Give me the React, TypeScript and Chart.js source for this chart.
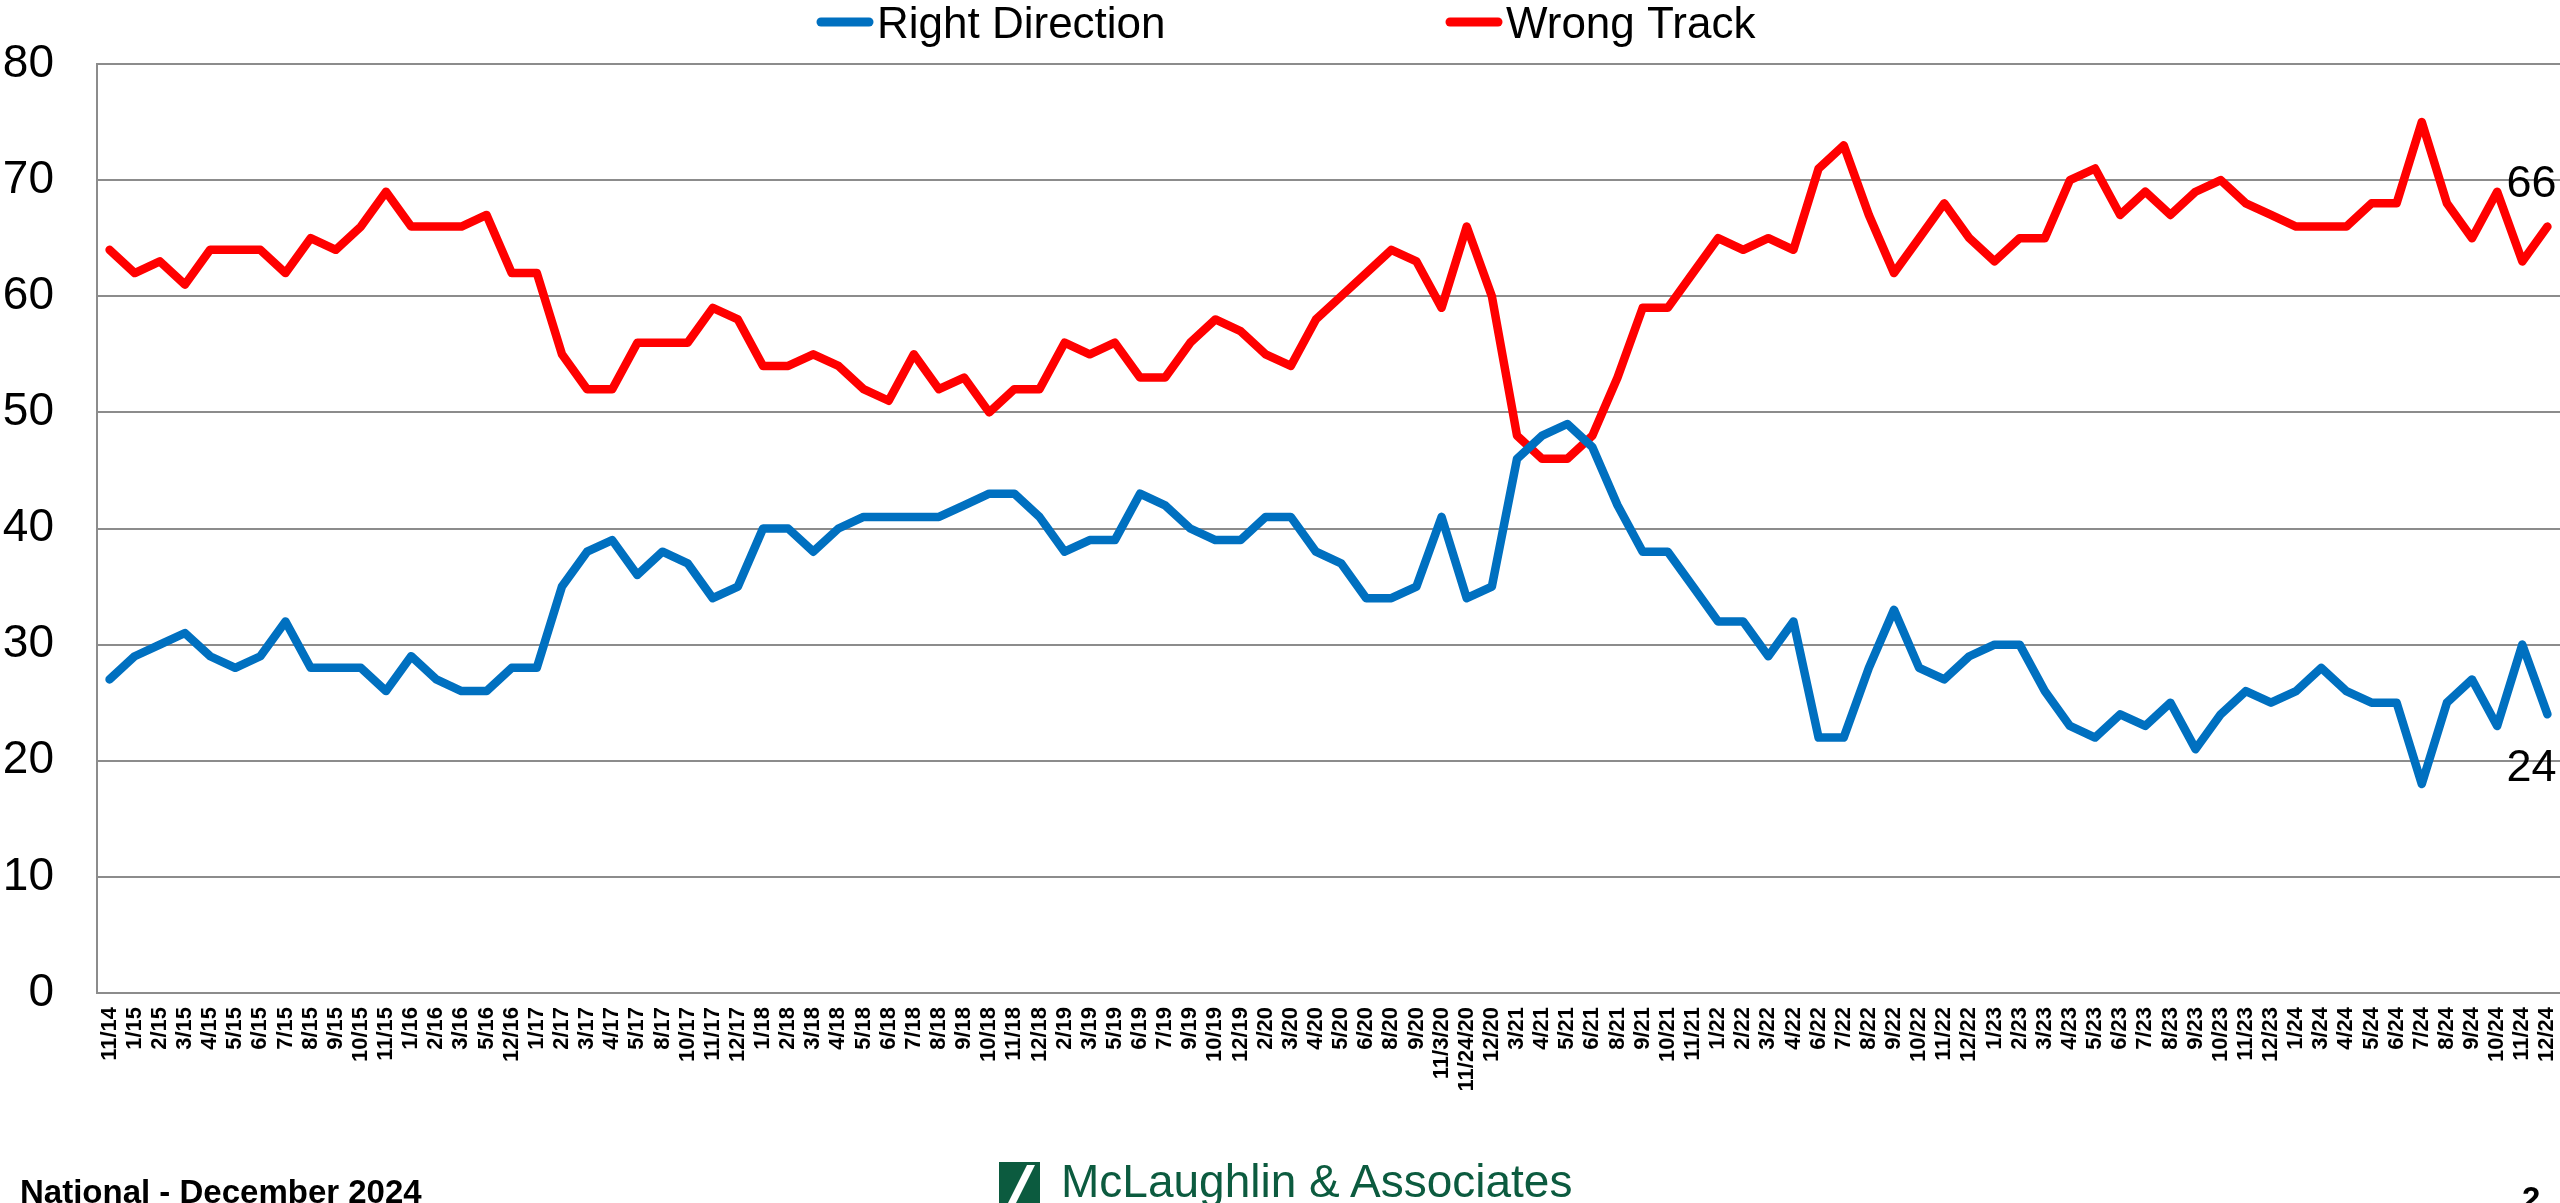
import React, { useEffect, useRef } from 'react';
import { Chart, registerables } from 'chart.js';

Chart.register(...registerables);

const categories = [
  '11/14', '1/15', '2/15', '3/15', '4/15', '5/15', '6/15', '7/15', '8/15', '9/15', '10/15', '11/15',
  '1/16', '2/16', '3/16', '5/16', '12/16',
  '1/17', '2/17', '3/17', '4/17', '5/17', '8/17', '10/17', '11/17', '12/17',
  '1/18', '2/18', '3/18', '4/18', '5/18', '6/18', '7/18', '8/18', '9/18', '10/18', '11/18', '12/18',
  '2/19', '3/19', '5/19', '6/19', '7/19', '9/19', '10/19', '12/19',
  '2/20', '3/20', '4/20', '5/20', '6/20', '8/20', '9/20', '11/3/20', '11/24/20', '12/20',
  '3/21', '4/21', '5/21', '6/21', '8/21', '9/21', '10/21', '11/21',
  '1/22', '2/22', '3/22', '4/22', '6/22', '7/22', '8/22', '9/22', '10/22', '11/22', '12/22',
  '1/23', '2/23', '3/23', '4/23', '5/23', '6/23', '7/23', '8/23', '9/23', '10/23', '11/23', '12/23',
  '1/24', '3/24', '4/24', '5/24', '6/24', '7/24', '8/24', '9/24', '10/24', '11/24', '12/24',
];

const rightDirection = [
  27, 29, 30, 31, 29, 28, 29, 32, 28, 28, 28, 26, 29, 27, 26, 26, 28, 28, 35, 38, 39, 36, 38, 37, 34,
  35, 40, 40, 38, 40, 41, 41, 41, 41, 42, 43, 43, 41, 38, 39, 39, 43, 42, 40, 39, 39, 41, 41,
  38, 37, 34, 34, 35, 41, 34, 35, 46, 48, 49, 47, 42, 38, 38, 35, 32, 32, 29, 32, 22, 22, 28, 33, 28,
  27, 29, 30, 30, 26, 23, 22, 24, 23, 25, 21, 24, 26, 25, 26, 28, 26, 25, 25, 18, 25, 27, 23, 30, 24,
];

const wrongTrack = [
  64, 62, 63, 61, 64, 64, 64, 62, 65, 64, 66, 69, 66, 66, 66, 67, 62, 62, 55, 52, 52, 56, 56, 56, 59,
  58, 54, 54, 55, 54, 52, 51, 55, 52, 53, 50, 52, 52, 56, 55, 56, 53, 53, 56, 58, 57, 55, 54,
  58, 60, 62, 64, 63, 59, 66, 60, 48, 46, 46, 48, 53, 59, 59, 62, 65, 64, 65, 64, 71, 73, 67, 62, 65,
  68, 65, 63, 65, 65, 70, 71, 67, 69, 67, 69, 70, 68, 67, 66, 66, 66, 68, 68, 75, 68, 65, 69, 63, 66,
];

const seriesNames = ['Right Direction', 'Wrong Track'];
const seriesColors = ['#0070C0', '#FF0000'];

const Y_MIN = 0;
const Y_MAX = 80;
const Y_STEP = 10;

const FONT = "'Liberation Sans', Arial, sans-serif";
const W = 2560;
const H = 1203;

const legendPlugin = {
  id: 'customLegend',
  afterDraw(chart: any) {
    const ctx = chart.ctx;
    const positions = [816, 1445];
    ctx.save();
    chart.data.datasets.forEach((ds: any, i: number) => {
      const x = positions[i];
      const y = 22;
      ctx.strokeStyle = ds.borderColor;
      ctx.lineWidth = 9;
      ctx.lineCap = 'round';
      ctx.beginPath();
      ctx.moveTo(x + 5, y);
      ctx.lineTo(x + 53, y);
      ctx.stroke();
      ctx.fillStyle = '#000';
      ctx.font = `44px ${FONT}`;
      ctx.textAlign = 'left';
      ctx.textBaseline = 'alphabetic';
      ctx.fillText(ds.label, x + 61, 38);
    });
    ctx.restore();
  },
};

const endLabelPlugin = {
  id: 'endLabels',
  afterDatasetsDraw(chart: any) {
    const ctx = chart.ctx;
    ctx.save();
    ctx.fillStyle = '#000';
    ctx.font = `45px ${FONT}`;
    ctx.textAlign = 'right';
    ctx.textBaseline = 'alphabetic';
    chart.data.datasets.forEach((ds: any, i: number) => {
      const meta = chart.getDatasetMeta(i);
      const last = meta.data.length - 1;
      const pt = meta.data[last];
      const v = ds.data[last];
      const y = i === 0 ? pt.y + 67 : pt.y - 30;
      ctx.fillText(String(v), pt.x + 9, y);
    });
    ctx.restore();
  },
};

export default function App() {
  const canvasRef = useRef<HTMLCanvasElement | null>(null);

  useEffect(() => {
    const canvas = canvasRef.current;
    if (!canvas) return;
    const chart = new Chart(canvas, {
      type: 'line',
      data: {
        labels: categories,
        datasets: [
          {
            label: seriesNames[0],
            data: rightDirection,
            borderColor: seriesColors[0],
            backgroundColor: seriesColors[0],
            borderWidth: 8.5,
            pointRadius: 0,
            tension: 0,
            borderJoinStyle: 'round',
            borderCapStyle: 'round',
          },
          {
            label: seriesNames[1],
            data: wrongTrack,
            borderColor: seriesColors[1],
            backgroundColor: seriesColors[1],
            borderWidth: 8.5,
            pointRadius: 0,
            tension: 0,
            borderJoinStyle: 'round',
            borderCapStyle: 'round',
          },
        ],
      },
      options: {
        responsive: false,
        animation: false,
        devicePixelRatio: 1,
        layout: { padding: { top: 64, left: 0, right: 0, bottom: 0 } },
        plugins: {
          legend: { display: false },
          tooltip: { enabled: false },
          title: { display: false },
        },
        scales: {
          x: {
            type: 'category',
            offset: true,
            grid: { display: false, drawTicks: false },
            border: { display: true, color: '#8c8c8c', width: 2 },
            ticks: {
              autoSkip: false,
              maxRotation: 90,
              minRotation: 90,
              padding: 14,
              color: '#000',
              font: { family: FONT, size: 22, weight: 'bold' },
            },
            afterFit(scale: any) {
              scale.height = H - 993;
              scale.paddingLeft = 0;
              scale.paddingRight = 0;
            },
          },
          y: {
            min: Y_MIN,
            max: Y_MAX,
            ticks: {
              stepSize: Y_STEP,
              padding: 43,
              color: '#000',
              font: { family: FONT, size: 46 },
            },
            grid: { color: '#8c8c8c', lineWidth: 2, drawTicks: false },
            border: { display: true, color: '#8c8c8c', width: 2 },
            afterFit(scale: any) {
              scale.width = 97;
              scale.paddingTop = 0;
              scale.paddingBottom = 0;
            },
          },
        },
      },
      plugins: [legendPlugin, endLabelPlugin],
    } as any);
    return () => chart.destroy();
  }, []);

  return (
    <div
      style={{
        position: 'absolute',
        left: 0,
        top: 0,
        width: W,
        height: H,
        overflow: 'hidden',
        background: '#fff',
      }}
    >
      <canvas
        ref={canvasRef}
        width={W}
        height={H}
        style={{ position: 'absolute', left: 0, top: 0, width: W, height: H }}
      />
      <div
        style={{
          position: 'absolute',
          left: 20,
          top: 1175,
          font: `bold 33px ${FONT}`,
          lineHeight: 1,
          whiteSpace: 'nowrap',
          color: '#000',
        }}
      >
        National - December 2024
      </div>
      <svg
        style={{ position: 'absolute', left: 999, top: 1162 }}
        width={41}
        height={41}
        viewBox="0 0 41 41"
      >
        <rect x={0} y={0} width={41} height={41} fill="#0c5b3f" />
        <polygon points="9,41 17,41 36,3 28,3" fill="#fff" />
      </svg>
      <div
        style={{
          position: 'absolute',
          left: 1061,
          top: 1158,
          font: `46px ${FONT}`,
          lineHeight: 1,
          whiteSpace: 'nowrap',
          color: '#0c5b3f',
        }}
      >
        McLaughlin &amp; Associates
      </div>
      <div
        style={{
          position: 'absolute',
          left: 2522,
          top: 1182,
          font: `bold 33px ${FONT}`,
          lineHeight: 1,
          whiteSpace: 'nowrap',
          color: '#000',
        }}
      >
        2
      </div>
    </div>
  );
}
